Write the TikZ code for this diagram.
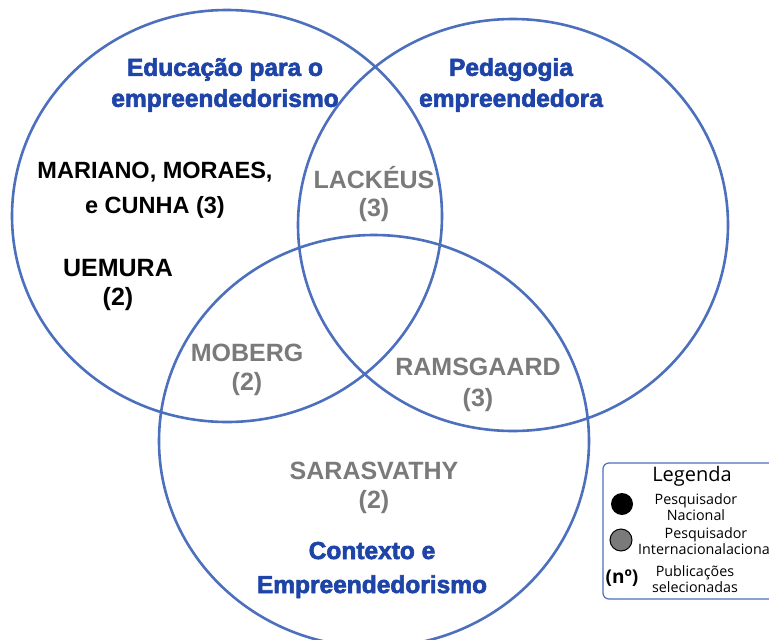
\documentclass[tikz,border=0pt]{standalone}
\usepackage{fontspec}
\setmainfont{Liberation Sans}
\newfontfamily\legfont{Open Sans}
\newfontfamily\headfont{Liberation Sans Bold}[FakeBold=2.5]
\usepackage{tikz}
\usetikzlibrary{shapes.geometric,backgrounds}
\definecolor{setblue}{RGB}{76,112,190}
\definecolor{headblue}{RGB}{30,68,168}
\definecolor{intgray}{RGB}{122,122,122}
\newcommand{\fsz}[2]{\fontsize{#1}{#2}\selectfont}

\begin{document}
\begin{tikzpicture}[x=1pt,y=-1pt]
\tikzstyle{set}=[draw=setblue,line width=2.6pt,ellipse,minimum width=430pt,minimum height=412pt,inner sep=0pt]
\tikzstyle{heading}=[text=headblue,font=\headfont\bfseries\fsz{24.5}{31},align=center,inner sep=0pt]
\tikzstyle{nacional}=[text=black,font=\bfseries\fsz{25}{29},align=center,inner sep=0pt]
\tikzstyle{intl}=[text=intgray,font=\bfseries\fsz{25}{29},align=center,inner sep=0pt]
\tikzstyle{legtext}=[font=\legfont\fsz{14.3}{12.5},align=center,inner sep=0pt]
\tikzstyle{dot}=[circle,minimum size=22pt,inner sep=0pt]
\useasboundingbox (0,0) rectangle (769,640);
\clip (0,0) rectangle (769,640);
\fill[white] (0,0) rectangle (769,640);

\node[set] (edu) at (227,216) {};
\node[set] (ped) at (513,225) {};
\node[set] (ctx) at (374,441) {};

\node[heading] (edutitle) at (225,85) {Educação para o\\empreendedorismo};
\node[heading] (pedtitle) at (511,85) {Pedagogia\\empreendedora};
\node[heading,font=\headfont\bfseries\fsz{24.5}{34}] (ctxtitle) at (372,570) {Contexto e\\Empreendedorismo};

\node[nacional,font=\bfseries\fsz{23.5}{35}] (mariano) at (155,190) {MARIANO, MORAES,\\e CUNHA (3)};
\node[nacional] (uemura) at (118,285) {UEMURA\\(2)};
\node[intl,font=\bfseries\fsz{25}{28}] (lackeus) at (374,194) {LACKÉUS\\(3)};
\node[intl] (moberg) at (247,370) {MOBERG\\(2)};
\node[intl,font=\bfseries\fsz{25}{31}] (ramsgaard) at (478,385) {RAMSGAARD\\(3)};
\node[intl] (sarasvathy) at (374,488) {SARASVATHY\\(2)};

% legenda
\draw[setblue,line width=1.2pt,rounded corners=6pt] (603,463) rectangle (800,599);
\node[font=\legfont\fsz{20}{20},inner sep=0pt] (legenda) at (692,476) {Legenda};
\node[dot,fill=black] (nacdot) at (622,504) {};
\node[legtext] (nactext) at (696,507) {Pesquisador\\Nacional};
\node[dot,fill=intgray,draw=black,line width=1pt] (intdot) at (621,540) {};
\node[legtext] (intlabel) at (706,535) {Pesquisador};
\node[legtext,anchor=west] (inttext) at (638,549) {Internacionalacional};
\node[font=\legfont\bfseries\fsz{19}{19},inner sep=0pt] (numero) at (622,578) {(nº)};
\node[legtext] (pubtext) at (695,579) {Publicações\\selecionadas};
\end{tikzpicture}
\end{document}
